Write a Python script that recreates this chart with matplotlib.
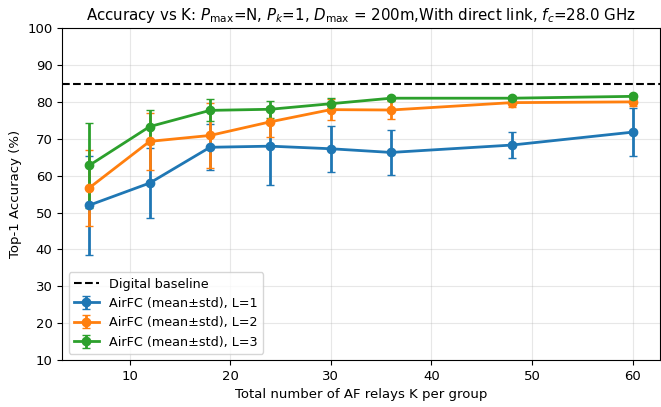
import matplotlib
matplotlib.use("Agg")
import matplotlib.pyplot as plt

# relay counts per group
K = [6, 12, 18, 24, 30, 36, 48, 60]

# top-1 accuracy (%) mean and std for each number of layers
acc_L1 = [52.0, 58.0, 67.7, 68.0, 67.3, 66.3, 68.3, 71.8]
std_L1 = [13.4, 9.6, 6.2, 10.5, 6.2, 6.0, 3.5, 6.6]
acc_L2 = [56.7, 69.3, 70.9, 74.6, 77.9, 77.8, 79.8, 80.0]
std_L2 = [10.3, 7.7, 8.7, 4.0, 2.9, 2.4, 1.2, 1.2]
acc_L3 = [62.8, 73.3, 77.7, 78.0, 79.5, 81.0, 81.0, 81.5]
std_L3 = [11.6, 4.6, 3.0, 2.3, 1.6, 0.6, 0.6, 0.6]

digital_baseline = 84.8

fig, ax = plt.subplots(figsize=(6.61, 4.07), dpi=100)

ax.axhline(digital_baseline, color='black', linestyle='--', linewidth=1.5, label="Digital baseline")
ax.errorbar(K, acc_L1, yerr=std_L1, marker='o', markersize=6, capsize=3, linewidth=2, label="AirFC (mean±std), L=1")
ax.errorbar(K, acc_L2, yerr=std_L2, marker='o', markersize=6, capsize=3, linewidth=2, label="AirFC (mean±std), L=2")
ax.errorbar(K, acc_L3, yerr=std_L3, marker='o', markersize=6, capsize=3, linewidth=2, label="AirFC (mean±std), L=3")

ax.set_title(r"Accuracy vs K: $P_{\mathrm{max}}$=N, $P_k$=1, $D_{\mathrm{max}}$ = 200m,With direct link, $f_c$=28.0 GHz",
             fontsize=10.8)
ax.set_xlabel("Total number of AF relays K per group", fontsize=9.5)
ax.set_ylabel("Top-1 Accuracy (%)", fontsize=9.5)
ax.tick_params(labelsize=9.5)
ax.set_ylim(10, 100)
ax.grid(True, alpha=0.3)
ax.legend(loc='lower left', fontsize=9.2)

fig.subplots_adjust(left=0.094, right=0.998, top=0.931, bottom=0.115)
fig.savefig("out.png")
